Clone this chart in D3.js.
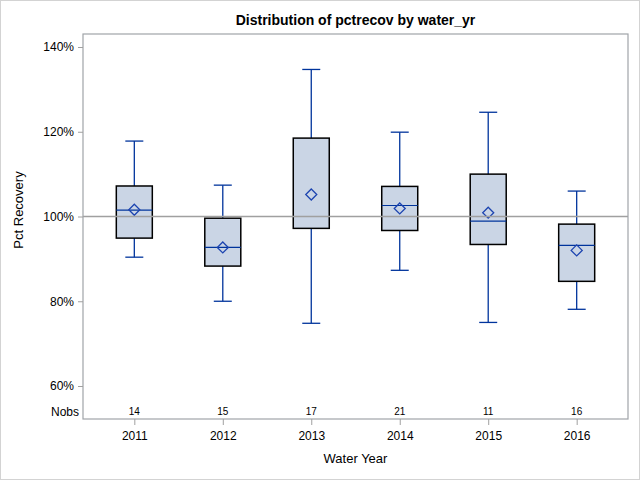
<!DOCTYPE html>
<html>
<head>
<meta charset="utf-8">
<script src="https://cdn.jsdelivr.net/npm/d3@7"></script>
<style>
  body { margin: 0; background: #fff; }
  text { font-family: "Liberation Sans", Arial, sans-serif; fill: #000; }
</style>
</head>
<body>
<script>
// box plot of pct recovery by water year
var w = 640;
var h = 480;

var years = ["2011", "2012", "2013", "2014", "2015", "2016"];
var nobs = [14, 15, 17, 21, 11, 16];
var whiskLow = [90.4, 80.0, 74.8, 87.3, 75.0, 78.1];
var q1 = [94.9, 88.3, 97.2, 96.7, 93.4, 84.7];
var median = [101.5, 92.7, 100.0, 102.6, 98.9, 93.2];
var q3 = [107.2, 99.6, 118.5, 107.1, 110.0, 98.2];
var whiskHigh = [117.8, 107.4, 134.7, 119.9, 124.6, 106.0];
var means = [101.6, 92.7, 105.2, 101.9, 100.9, 92.0];
var yTicks = [60, 80, 100, 120, 140];
var refValue = 100;

var pLeft = 83, pRight = 628, pTop = 34, pBottom = 419;

var svg = d3.select("body")
  .append("svg")
  .attr("width", w)
  .attr("height", h);

// outer border
svg.append("rect")
  .attr("x", 0.5).attr("y", 0.5)
  .attr("width", w - 1).attr("height", h - 1)
  .attr("fill", "none")
  .attr("stroke", "#d3d3d3");

var x = d3.scalePoint()
  .domain(years)
  .range([pLeft, pRight])
  .padding(0.58);

var y = d3.scaleLinear()
  .domain([60, 140])
  .range([386, 47]);

var data = years.map(function(d, i) {
  return { year: d, n: nobs[i], lo: whiskLow[i], q1: q1[i], med: median[i],
           q3: q3[i], hi: whiskHigh[i], mean: means[i] };
});

var blue = "#00349c";
var boxW = 36, capW = 18;

var g = svg.selectAll("g.box")
  .data(data)
  .enter()
  .append("g")
  .attr("class", "box");

// whiskers
g.append("line")
  .attr("x1", function(d) { return x(d.year); })
  .attr("x2", function(d) { return x(d.year); })
  .attr("y1", function(d) { return y(d.hi); })
  .attr("y2", function(d) { return y(d.lo); })
  .attr("stroke", blue).attr("stroke-width", 1.3);

g.append("line")
  .attr("x1", function(d) { return x(d.year) - capW / 2; })
  .attr("x2", function(d) { return x(d.year) + capW / 2; })
  .attr("y1", function(d) { return y(d.hi); })
  .attr("y2", function(d) { return y(d.hi); })
  .attr("stroke", blue).attr("stroke-width", 1.3);

g.append("line")
  .attr("x1", function(d) { return x(d.year) - capW / 2; })
  .attr("x2", function(d) { return x(d.year) + capW / 2; })
  .attr("y1", function(d) { return y(d.lo); })
  .attr("y2", function(d) { return y(d.lo); })
  .attr("stroke", blue).attr("stroke-width", 1.3);

g.append("rect")
  .attr("x", function(d) { return x(d.year) - boxW / 2; })
  .attr("y", function(d) { return y(d.q3); })
  .attr("width", boxW)
  .attr("height", function(d) { return y(d.q1) - y(d.q3); })
  .attr("fill", "#cad5e5")
  .attr("stroke", "#000")
  .attr("stroke-width", 1.5);

g.append("line")
  .attr("x1", function(d) { return x(d.year) - boxW / 2; })
  .attr("x2", function(d) { return x(d.year) + boxW / 2; })
  .attr("y1", function(d) { return y(d.med); })
  .attr("y2", function(d) { return y(d.med); })
  .attr("stroke", blue).attr("stroke-width", 1.2);

// mean diamond
g.append("path")
  .attr("d", function(d) {
    var cx = x(d.year), cy = y(d.mean), r = 5.5;
    return "M" + cx + "," + (cy - r) + "L" + (cx + r) + "," + cy +
      "L" + cx + "," + (cy + r) + "L" + (cx - r) + "," + cy + "Z";
  })
  .attr("fill", "none")
  .attr("stroke", "#1c44b0")
  .attr("stroke-width", 1.3);

// reference line
svg.append("line")
  .attr("x1", pLeft).attr("x2", pRight)
  .attr("y1", y(refValue)).attr("y2", y(refValue))
  .attr("stroke", "#a0a0a0").attr("stroke-width", 1.4);

// frame
svg.append("rect")
  .attr("x", pLeft).attr("y", pTop)
  .attr("width", pRight - pLeft).attr("height", pBottom - pTop)
  .attr("fill", "none")
  .attr("stroke", "#a0a4a8")
  .attr("stroke-width", 1.2);

// y axis
var yAxis = d3.axisLeft(y)
  .tickValues(yTicks)
  .tickSize(5)
  .tickPadding(4)
  .tickFormat(function(d) { return d + "%"; });

var ya = svg.append("g")
  .attr("transform", "translate(" + pLeft + ",0)")
  .call(yAxis);
ya.select(".domain").remove();
ya.selectAll("line").attr("stroke", "#a0a0a0");
ya.selectAll("text").attr("font-size", 12).attr("font-family", "Liberation Sans, Arial, sans-serif");

// x axis
var xAxis = d3.axisBottom(x)
  .tickSize(6)
  .tickPadding(6);

var xa = svg.append("g")
  .attr("transform", "translate(0," + pBottom + ")")
  .call(xAxis);
xa.select(".domain").remove();
xa.selectAll("line").attr("stroke", "#a0a0a0");
xa.selectAll("text").attr("font-size", 12).attr("font-family", "Liberation Sans, Arial, sans-serif");

// nobs row
svg.append("text")
  .attr("x", 79).attr("y", 416)
  .attr("text-anchor", "end")
  .attr("font-size", 12)
  .text("Nobs");

svg.selectAll("text.nobs")
  .data(data)
  .enter()
  .append("text")
  .attr("class", "nobs")
  .attr("x", function(d) { return x(d.year); })
  .attr("y", 415)
  .attr("text-anchor", "middle")
  .attr("font-size", 10)
  .text(function(d) { return d.n; });

// titles
svg.append("text")
  .attr("x", (pLeft + pRight) / 2).attr("y", 25)
  .attr("text-anchor", "middle")
  .attr("font-size", 14)
  .attr("font-weight", "bold")
  .text("Distribution of pctrecov by water_yr");

svg.append("text")
  .attr("x", (pLeft + pRight) / 2).attr("y", 463)
  .attr("text-anchor", "middle")
  .attr("font-size", 13)
  .text("Water Year");

svg.append("text")
  .attr("transform", "translate(23,210) rotate(-90)")
  .attr("text-anchor", "middle")
  .attr("font-size", 13)
  .text("Pct Recovery");
</script>
</body>
</html>
